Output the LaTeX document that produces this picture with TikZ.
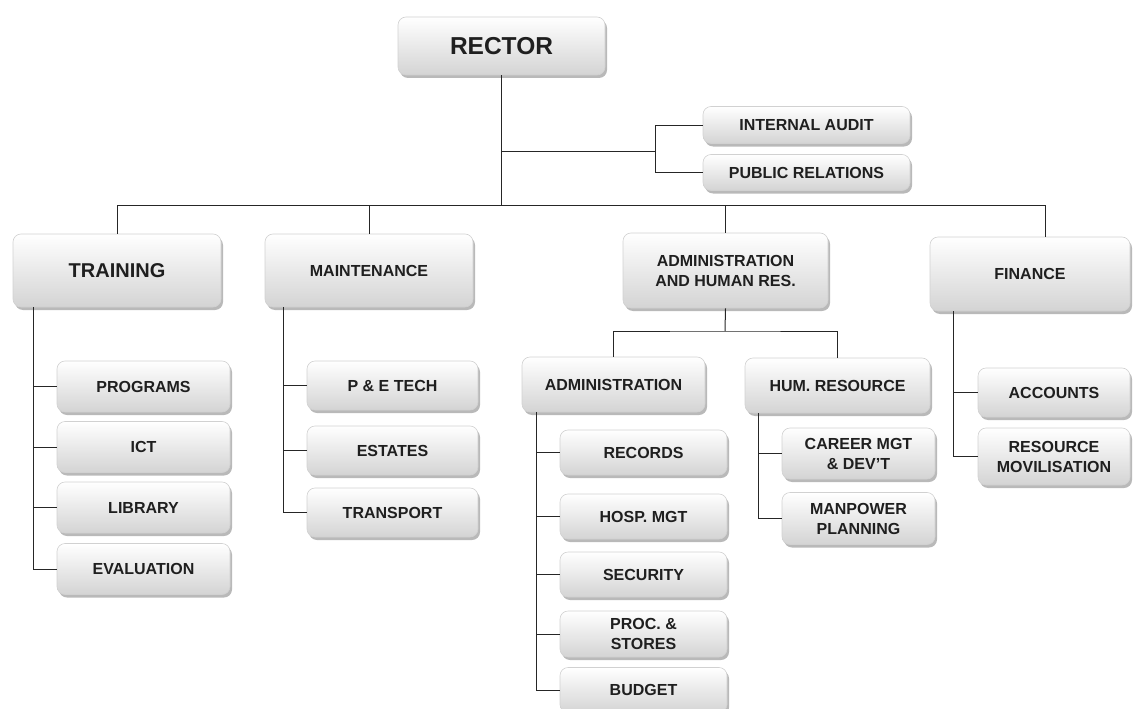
\documentclass[tikz,border=0pt]{standalone}
\usepackage{fontspec}
\setmainfont{Liberation Sans}
\usetikzlibrary{shadows}
\begin{document}
\begin{tikzpicture}[x=1pt,y=-1pt,
  box/.style={rectangle, rounded corners=8pt, draw=black!18, line width=0.6pt,
    top color=white, bottom color=black!17,
    drop shadow={shadow xshift=2pt, shadow yshift=-3pt, fill=black!50, opacity=0.55},
    align=center, inner sep=2pt, text=black!88,
    font=\fontsize{16}{20}\selectfont\bfseries},
  big/.style={font=\fontsize{20}{24}\selectfont\bfseries},
  huge/.style={font=\fontsize{24.5}{28}\selectfont\bfseries},
  conn/.style={draw=black!85, line width=1pt}]
\useasboundingbox (0,0) rectangle (1133,709);
% top level
\node[box, huge, minimum width=207pt, minimum height=58pt] (rector) at (501.5,46) {RECTOR};
\node[box, minimum width=207pt, minimum height=37pt] (audit) at (806.5,125) {INTERNAL AUDIT};
\node[box, minimum width=207pt, minimum height=36pt] (pr) at (806.5,172.5) {PUBLIC RELATIONS};
% departments
\node[box, big, minimum width=208pt, minimum height=73pt] (training) at (117,270.5) {TRAINING};
\node[box, minimum width=208pt, minimum height=73pt] (maint) at (369,270.5) {MAINTENANCE};
\node[box, minimum width=205pt, minimum height=75pt] (ahr) at (725.5,270.5) {ADMINISTRATION\\AND HUMAN RES.};
\node[box, minimum width=200pt, minimum height=74pt] (fin) at (1030,274) {FINANCE};
% training children
\node[box, minimum width=173pt, minimum height=51pt] (prog) at (143.5,386.5) {PROGRAMS};
\node[box, minimum width=173pt, minimum height=51pt] (ict) at (143.5,447) {ICT};
\node[box, minimum width=173pt, minimum height=51pt] (lib) at (143.5,507.5) {LIBRARY};
\node[box, minimum width=173pt, minimum height=51pt] (eval) at (143.5,569) {EVALUATION};
% maintenance children
\node[box, minimum width=171pt, minimum height=49pt] (pet) at (392.5,385.5) {P \& E TECH};
\node[box, minimum width=171pt, minimum height=49pt] (est) at (392.5,450.5) {ESTATES};
\node[box, minimum width=171pt, minimum height=49pt] (trans) at (392.5,512.5) {TRANSPORT};
% admin & hr
\node[box, minimum width=183pt, minimum height=55pt] (admin) at (613.5,384.5) {ADMINISTRATION};
\node[box, minimum width=185pt, minimum height=55pt] (hr) at (837.5,385.5) {HUM. RESOURCE};
\node[box, minimum width=167pt, minimum height=45pt] (rec) at (643.5,452.5) {RECORDS};
\node[box, minimum width=167pt, minimum height=45pt] (hosp) at (643.5,516.5) {HOSP. MGT};
\node[box, minimum width=167pt, minimum height=45pt] (sec) at (643.5,574.5) {SECURITY};
\node[box, minimum width=167pt, minimum height=46pt] (proc) at (643.5,634) {PROC. \&\\STORES};
\node[box, minimum width=167pt, minimum height=45pt] (budget) at (643.5,690) {BUDGET};
\node[box, minimum width=153pt, minimum height=51pt] (career) at (858.5,453.5) {CAREER MGT\\\& DEV'T};
\node[box, minimum width=153pt, minimum height=52pt] (manp) at (858.5,518.5) {MANPOWER\\PLANNING};
% finance children
\node[box, minimum width=152pt, minimum height=49pt] (acc) at (1054,392.5) {ACCOUNTS};
\node[box, minimum width=152pt, minimum height=57pt] (resm) at (1054,456.5) {RESOURCE\\MOVILISATION};
% coordinates
\coordinate (bus) at (0,205);
\coordinate (aj) at (655,151);
\coordinate (split) at (725,331);
\coordinate (tt) at (33,0);
\coordinate (mt) at (283,0);
\coordinate (at) at (536,0);
\coordinate (ht) at (758,0);
\coordinate (ft) at (953,0);
\coordinate (fc) at (1045,0);
% connectors
\draw[conn] (rector.south) -- (rector.south |- bus);
\draw[conn] (rector.south |- aj) -- (aj);
\draw[conn] (aj |- audit.west) -- (audit.west);
\draw[conn] (aj |- audit.west) |- (pr.west);
\draw[conn] (training.north) -- (training.north |- bus) -- (fc |- bus) -- (fc |- fin.north);
\draw[conn] (maint.north) -- (maint.north |- bus);
\draw[conn] (ahr.north) -- (ahr.north |- bus);
% training
\draw[conn] (tt |- training.south) |- (eval.west);
\foreach \n in {prog,ict,lib} \draw[conn] (tt |- \n.west) -- (\n.west);
% maintenance
\draw[conn] (mt |- maint.south) |- (trans.west);
\foreach \n in {pet,est} \draw[conn] (mt |- \n.west) -- (\n.west);
% admin & hr
\draw[conn] (ahr.south) -- (split);
\draw[conn] (admin.north) |- (split) -| (hr.north);
\draw[conn] (at |- admin.south) |- (budget.west);
\foreach \n in {rec,hosp,sec,proc} \draw[conn] (at |- \n.west) -- (\n.west);
\draw[conn] (ht |- hr.south) |- (manp.west);
\draw[conn] (ht |- career.west) -- (career.west);
% finance
\draw[conn] (ft |- fin.south) |- (resm.west);
\draw[conn] (ft |- acc.west) -- (acc.west);
\end{tikzpicture}
\end{document}
